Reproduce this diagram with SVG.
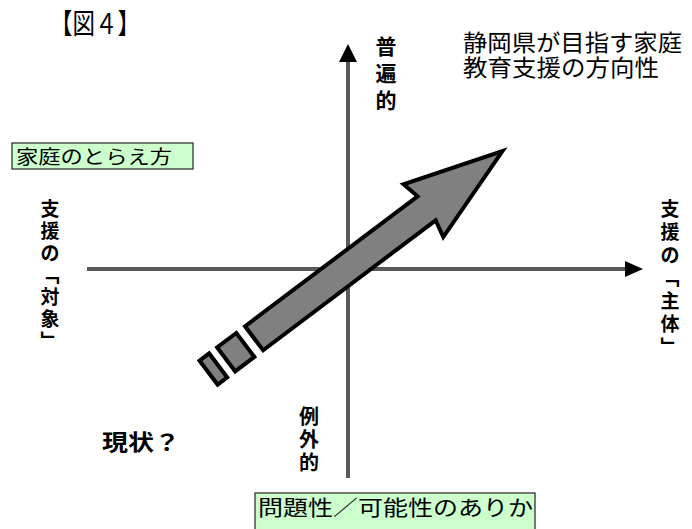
<svg xmlns="http://www.w3.org/2000/svg" width="692" height="529" viewBox="0 0 692 529">
<style>
.ax{stroke:#5a5a5a;stroke-width:4;fill:none}
.ah{fill:#000}
.vt{font-family:"Noto Sans CJK JP",sans-serif;font-size:19px;font-weight:bold;fill:#000;writing-mode:vertical-rl;text-orientation:upright;font-feature-settings:"vert" 0}
.box{fill:#ccffcc;stroke:#222;stroke-width:1.2}
.bt{font-family:"Noto Sans CJK JP",sans-serif;fill:#000}
.arr{fill:#808080;stroke:#000;stroke-width:4;stroke-linejoin:miter}
</style>
<rect width="692" height="529" fill="#fff"/>
<g id="title"><text x="50" y="34" font-family="Liberation Serif,'Noto Sans CJK JP',serif" font-size="28" textLength="90" lengthAdjust="spacingAndGlyphs">【図４】</text></g>
<g id="connectors">
<line class="ax" x1="348" y1="60" x2="348" y2="478"/>
<polygon class="ah" points="348,44 339,62 357,62"/>
<line class="ax" x1="87" y1="269" x2="627" y2="269"/>
<polygon class="ah" points="643,269 625,261 625,277"/>
</g>
<g id="heading">
<text class="bt" font-size="23"><tspan x="463" y="51" textLength="219" lengthAdjust="spacingAndGlyphs">静岡県が目指す家庭</tspan><tspan x="463" y="76" textLength="196" lengthAdjust="spacingAndGlyphs">教育支援の方向性</tspan></text>
</g>
<g id="label-top">
<text class="vt" x="386" y="36" style="font-size:21px;letter-spacing:6px">普遍的</text>
</g>
<g id="label-bottom">
<text class="vt" x="309" y="406" style="font-size:20px;letter-spacing:3px">例外的</text>
</g>
<g id="label-left">
<text class="vt" x="50" y="199" style="letter-spacing:3px">支援の「対象」</text>
</g>
<g id="label-right">
<text class="vt" x="670" y="199" style="letter-spacing:4px">支援の「主体」</text>
</g>
<g id="box-family">
<rect class="box" x="12" y="143" width="181" height="26"/>
<text class="bt" x="16" y="164" font-size="19" textLength="156" lengthAdjust="spacingAndGlyphs">家庭のとらえ方</text>
</g>
<g id="box-problem">
<rect class="box" x="255" y="493" width="280" height="40"/>
<text class="bt" x="258" y="515" font-size="21" textLength="275" lengthAdjust="spacingAndGlyphs">問題性／可能性のありか</text>
</g>
<g id="current">
<text x="102" y="450" font-family="'Noto Sans CJK JP',sans-serif" font-size="22" font-weight="bold" textLength="78" lengthAdjust="spacingAndGlyphs">現状？</text>
</g>
<g id="big-arrow" transform="translate(252.5,339.5) rotate(-37)">
<rect class="arr" x="-55" y="-15" width="12" height="30"/>
<rect class="arr" x="-33" y="-15" width="24" height="30"/>
<polygon class="arr" points="2,-15 218,-15 214,-33 313,0 214,33 218,15 2,15"/>
</g>
</svg>
